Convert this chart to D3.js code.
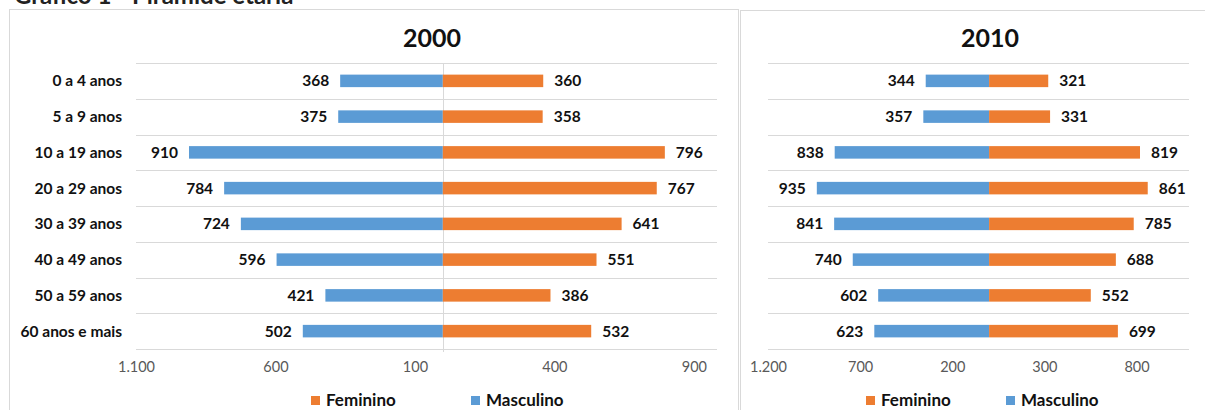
<!DOCTYPE html>
<html><head><meta charset="utf-8">
<script src="https://cdnjs.cloudflare.com/ajax/libs/d3/7.8.5/d3.min.js"></script>
<style>
html,body{margin:0;padding:0;background:#fff;}
svg{display:block;font-family:Lato,"Open Sans",sans-serif;}
</style></head>
<body>
<svg id="c" width="1205" height="410"></svg>
<script>
const categories = ["0 a 4 anos","5 a 9 anos","10 a 19 anos","20 a 29 anos","30 a 39 anos","40 a 49 anos","50 a 59 anos","60 anos e mais"];
const masculino2000 = [368,375,910,784,724,596,421,502];
const feminino2000  = [360,358,796,767,641,551,386,532];
const masculino2010 = [344,357,838,935,841,740,602,623];
const feminino2010  = [321,331,819,861,785,688,552,699];
const ticks2000 = [-1100,-600,-100,400,900];
const ticks2010 = [-1200,-700,-200,300,800];
const seriesNames = ["Feminino","Masculino"];

const BLUE="#5B9BD5", ORANGE="#ED7D31", GRID="#D9D9D9";
const svg = d3.select("#c");

// heading, cut off at the top edge as in the reference
svg.append("text").attr("x",14).attr("y",4).attr("font-size",24).attr("font-weight",700)
  .attr("fill","#222").text("Gráfico 1 - Pirâmide etária");

// panel frames
svg.append("rect").attr("x",9.5).attr("y",9.5).attr("width",729).attr("height",420)
  .attr("fill","none").attr("stroke",GRID);
svg.append("rect").attr("x",740.5).attr("y",10.5).attr("width",480).attr("height",420)
  .attr("fill","none").attr("stroke",GRID);

const fmt = v => {
  const a = Math.abs(v);
  return a >= 1000 ? d3.format(",")(a).replace(/,/g,".") : String(a);
};

function panel(o){
  const g = svg.append("g");
  const x = d3.scaleLinear().domain(o.domain).range(o.range);
  const y = d3.scaleBand().domain(categories).range([63,349]).paddingInner(0.65).paddingOuter(0.325);
  const step = y.step();
  d3.range(categories.length+1).forEach(i=>{
    const yy = Math.round(63 + i*step)+0.5;
    g.append("line").attr("x1",o.range[0]).attr("x2",o.range[1]).attr("y1",yy).attr("y2",yy)
      .attr("stroke",GRID).attr("stroke-width",1);
  });
  if(o.centerLine){
    g.append("line").attr("x1",Math.round(x(0))+0.5).attr("x2",Math.round(x(0))+0.5)
      .attr("y1",63).attr("y2",352).attr("stroke",GRID);
  }
  const rows = categories.map((c,i)=>({c, m:o.male[i], f:o.female[i]}));
  g.selectAll(".m").data(rows).join("rect")
    .attr("x",d=>x(-d.m)).attr("y",d=>y(d.c)).attr("width",d=>x(0)-x(-d.m)).attr("height",y.bandwidth())
    .attr("fill",BLUE);
  g.selectAll(".f").data(rows).join("rect")
    .attr("x",x(0)).attr("y",d=>y(d.c)).attr("width",d=>x(d.f)-x(0)).attr("height",y.bandwidth())
    .attr("fill",ORANGE);
  g.selectAll(".ml").data(rows).join("text")
    .attr("x",d=>x(-d.m)-11).attr("y",d=>y(d.c)+y.bandwidth()/2).attr("dy","0.36em")
    .attr("text-anchor","end").attr("font-size",15.5).attr("font-weight",700).attr("fill","#111")
    .text(d=>d.m);
  g.selectAll(".fl").data(rows).join("text")
    .attr("x",d=>x(d.f)+11).attr("y",d=>y(d.c)+y.bandwidth()/2).attr("dy","0.36em")
    .attr("text-anchor","start").attr("font-size",15.5).attr("font-weight",700).attr("fill","#111")
    .text(d=>d.f);
  if(o.catLabels){
    g.selectAll(".cl").data(categories).join("text")
      .attr("x",122).attr("y",d=>y(d)+y.bandwidth()/2).attr("dy","0.36em")
      .attr("text-anchor","end").attr("font-size",15.5).attr("font-weight",700).attr("fill","#111")
      .text(d=>d);
  }
  const ax = d3.axisBottom(x).tickValues(o.ticks).tickFormat(fmt).tickSize(0).tickPadding(0);
  const axg = g.append("g").attr("transform","translate(0,362)").call(ax);
  axg.select(".domain").remove();
  axg.selectAll("text").attr("font-size",14.5).attr("fill","#595959").attr("font-family","Lato,sans-serif").attr("dy","0.71em");
  g.append("text").attr("x",o.titleX).attr("y",47).attr("text-anchor","middle")
    .attr("font-size",25).attr("font-weight",700).attr("fill","#111").text(o.title);
  const leg = [{n:seriesNames[0],c:ORANGE,x:o.legX[0]},{n:seriesNames[1],c:BLUE,x:o.legX[1]}];
  leg.forEach(l=>{
    g.append("rect").attr("x",l.x).attr("y",396).attr("width",9).attr("height",9).attr("fill",l.c);
    g.append("text").attr("x",l.x+15).attr("y",405.5).attr("font-size",17).attr("font-weight",700)
      .attr("fill","#111").text(l.n);
  });
}

panel({title:"2000", titleX:432, domain:[-1100,983], range:[136,717], ticks:ticks2000,
  male:masculino2000, female:feminino2000, catLabels:true, centerLine:true, legX:[311,471]});
panel({title:"2010", titleX:990, domain:[-1200,1085], range:[768,1189], ticks:ticks2010,
  male:masculino2010, female:feminino2010, catLabels:false, centerLine:false, legX:[866,1006]});
</script>
</body></html>
